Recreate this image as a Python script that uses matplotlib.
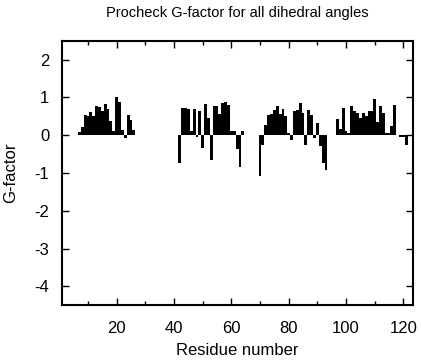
import numpy as np
import matplotlib.pyplot as plt
from matplotlib.ticker import MultipleLocator

plt.rcParams["font.family"] = ["Liberation Sans", "DejaVu Sans"]
plt.rcParams["axes.unicode_minus"] = False

# residue segments with their G-factor values
res_a = list(range(7, 27))
g_a = [0.08, 0.22, 0.54, 0.52, 0.62, 0.52, 0.78, 0.74, 0.64, 0.82, 0.68, 0.37, 0.12, 1.0, 0.87, 0.14, -0.08, 0.54, 0.4, 0.15]

res_b = list(range(42, 65))
g_b = [-0.74, 0.72, 0.71, 0.70, 0.10, 0.68, -0.04, 0.63, -0.34, 0.83, 0.45, -0.65, 0.78, 0.76, 0.56, 0.86, 0.89, 0.80, 0.12, 0.12, -0.37, -0.83, 0.10]

res_c = list(range(70, 94))
g_c = [-1.08, -0.26, 0.27, 0.54, 0.55, 0.67, 0.78, 0.55, 0.69, 0.51, 0.05, -0.14, 0.63, 0.67, 0.85, 0.58, -0.26, 0.67, 0.54, -0.08, 0.32, -0.28, -0.74, -0.93]

res_d = list(range(97, 122))
g_d = [0.42, 0.16, 0.71, 0.10, 0.05, 0.78, 0.65, 0.60, 0.45, 0.58, 0.52, 0.63, 0.65, 0.95, 0.34, 0.76, 0.60, 0.07, 0.05, 0.23, 0.80, 0.01, -0.05, -0.05, -0.25]

residues = res_a + res_b + res_c + res_d
gfactor = g_a + g_b + g_c + g_d

fig = plt.figure(figsize=(4.21, 3.6), dpi=100)
ax = fig.add_axes([0.147, 0.152, 0.835, 0.735])

ax.bar(residues, gfactor, width=1.0, color="black", linewidth=0)

ax.set_xlim(0.9, 123.5)
ax.set_ylim(-4.5, 2.5)
ax.xaxis.set_major_locator(MultipleLocator(20))
ax.xaxis.set_minor_locator(MultipleLocator(10))
ax.yaxis.set_major_locator(MultipleLocator(1))
ax.tick_params(which="both", direction="in", top=True, right=True, labelsize=12, width=1.0)
ax.tick_params(which="major", length=5)
ax.tick_params(axis="x", which="major", pad=11)
ax.tick_params(axis="y", which="major", pad=9)
ax.tick_params(which="minor", length=3)
for s in ax.spines.values():
    s.set_linewidth(1.5)

ax.set_xlabel("Residue number", fontsize=12, labelpad=5)
ax.set_ylabel("G-factor", fontsize=12, labelpad=12)
ax.set_title("Procheck G-factor for all dihedral angles", fontsize=10.5, pad=17)

fig.savefig("out.png", dpi=100)
